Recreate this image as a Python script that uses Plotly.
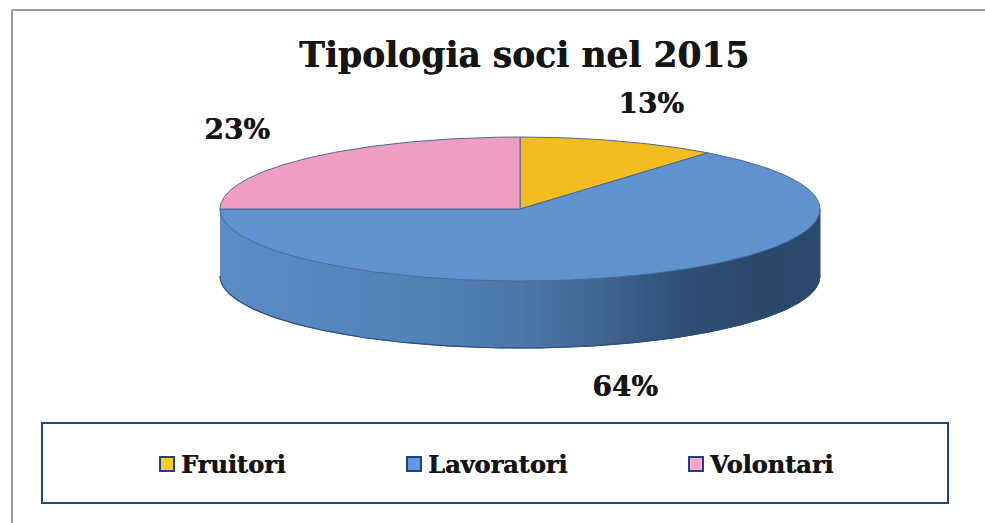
import numpy as np
import plotly.graph_objects as go

# --- data ---
TITLE = "Tipologia soci nel 2015"
categories = ["Fruitori", "Lavoratori", "Volontari"]
values = [13, 64, 23]

# --- style ---
colors = ["#F3BC1F", "#5F92CE", "#F09DC4"]
legend_colors = ["#FFCB21", "#619BDC", "#FFA6D0"]
FONT = "DejaVu Serif"
INK = "#151515"
NAVY = "#1C4483"
HEAVY = "0.5px 0 0 #151515"

# --- view of the tilted disc, in pixels of the 985x523 page ---
CX, CY, RX, RY, DEPTH = 520, 209, 300, 72, 67
label_xy = [(651, 105.5), (625, 388.5), (237, 131.5)]
legend_x = [167, 414, 696]
LEGEND_Y = 464
LEGEND_TEXT_DX, LEGEND_TEXT_DY = 14, 3


def view(theta):
    """3D perspective warp of the pie angle (radians from 12 o'clock, clockwise)."""
    return theta - np.radians(13.9) * (1 - np.cos(theta)) - np.radians(5.0) * np.sin(theta)


def rim(theta, drop=0.0):
    t = view(theta)
    return CX + RX * np.sin(t), CY - RY * np.cos(t) + drop


fractions = np.cumsum([0] + values) / sum(values)
fig = go.Figure()

# side wall: thin bands shaded left to right
stops_x = [220, 400, 520, 600, 680, 760, 820]
stops_rgb = np.array([[92, 140, 196], [84, 132, 186], [76, 120, 170], [64, 102, 146],
                      [47, 80, 120], [43, 72, 106], [44, 74, 110]], dtype=float)
band_edges = np.linspace(CX - RX, CX + RX, 121)
for x0, x1 in zip(band_edges[:-1], band_edges[1:]):
    xs = np.linspace(x0, x1, 4)
    front = CY + RY * np.sqrt(np.clip(1 - ((xs - CX) / RX) ** 2, 0, 1))
    mid = (x0 + x1) / 2
    rgb = [np.interp(mid, stops_x, stops_rgb[:, i]) for i in range(3)]
    col = "rgb(%d,%d,%d)" % tuple(rgb)
    fig.add_trace(go.Scatter(
        x=np.r_[xs, xs[::-1]], y=np.r_[front, front[::-1] + DEPTH],
        mode="lines", fill="toself", fillcolor=col, line=dict(color=col, width=1),
        hoverinfo="skip", showlegend=False))

# bottom edge of the wall
t_front = np.linspace(np.pi / 2, 3 * np.pi / 2, 200)
bx = CX + RX * np.sin(t_front)
by = CY - RY * np.cos(t_front) + DEPTH
fig.add_trace(go.Scatter(x=bx, y=by, mode="lines", line=dict(color="#2A4F80", width=1.2),
                         hoverinfo="skip", showlegend=False))

# top faces, one per value
for i, name in enumerate(categories):
    th = np.linspace(2 * np.pi * fractions[i], 2 * np.pi * fractions[i + 1], 240)
    x, y = rim(th)
    fig.add_trace(go.Scatter(
        x=np.r_[CX, x, CX], y=np.r_[CY, y, CY], mode="lines", fill="toself",
        fillcolor=colors[i], line=dict(color="#4A6A96", width=1),
        name=name, hoverinfo="name", showlegend=False))

# value labels
fig.add_trace(go.Scatter(
    x=[p[0] for p in label_xy], y=[p[1] for p in label_xy], mode="text",
    text=[f"{v}%" for v in values],
    textfont=dict(family=FONT, size=28, color=INK, weight="bold", shadow=HEAVY),
    textposition="middle center", hoverinfo="skip", showlegend=False))

# legend entries
fig.add_trace(go.Scatter(
    x=legend_x, y=[LEGEND_Y] * 3, mode="markers",
    marker=dict(symbol="square", size=14, color=legend_colors, line=dict(color=NAVY, width=2)),
    hoverinfo="skip", showlegend=False))
fig.add_trace(go.Scatter(
    x=[x + LEGEND_TEXT_DX for x in legend_x], y=[LEGEND_Y + LEGEND_TEXT_DY] * 3, mode="text",
    text=categories, textposition="middle right",
    textfont=dict(family=FONT, size=24, color=INK, weight="bold", shadow=HEAVY),
    hoverinfo="skip", showlegend=False))

fig.update_layout(
    width=985, height=523, margin=dict(l=0, r=0, t=0, b=0), autosize=False,
    paper_bgcolor="white", plot_bgcolor="white",
    xaxis=dict(range=[0, 985], visible=False, fixedrange=True),
    yaxis=dict(range=[523, 0], visible=False, fixedrange=True),
    shapes=[
        dict(type="line", x0=12, x1=985, y0=10, y1=10, line=dict(color="#9A9A9A", width=2), layer="below"),
        dict(type="line", x0=12, x1=12, y0=10, y1=523, line=dict(color="#9A9A9A", width=2), layer="below"),
        dict(type="rect", x0=42, x1=948, y0=423, y1=503, line=dict(color=NAVY, width=2), layer="below"),
    ],
    annotations=[dict(x=524, y=55, xref="x", yref="y", text=f"<b>{TITLE}</b>", showarrow=False,
                      font=dict(family=FONT, size=34.5, color=INK, shadow=HEAVY))],
)
fig.write_html("out.html", config={"displayModeBar": False},
               post_script="document.body.style.margin='0';document.documentElement.style.overflow='hidden';")
